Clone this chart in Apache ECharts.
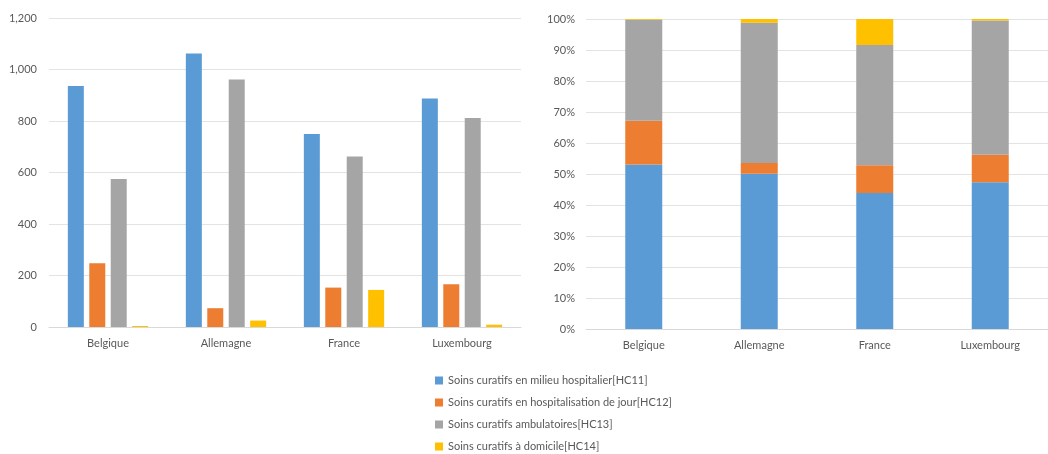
<!DOCTYPE html>
<html>
<head>
<meta charset="utf-8">
<script src="https://cdn.jsdelivr.net/npm/echarts@6/dist/echarts.min.js"></script>
<style>
html, body { margin: 0; padding: 0; background: #fff; }
#chart { width: 1048px; height: 454px; }
</style>
</head>
<body>
<div id="chart"></div>
<script>
var pays = ['Belgique', 'Allemagne', 'France', 'Luxembourg'];
var noms = [
    'Soins curatifs en milieu hospitalier[HC11]',
    'Soins curatifs en hospitalisation de jour[HC12]',
    'Soins curatifs ambulatoires[HC13]',
    'Soins curatifs à domicile[HC14]'
];
var hc11 = [936, 1062, 750, 887];
var hc12 = [248, 73, 153, 166];
var hc13 = [575, 961, 662, 812];
var hc14 = [4, 25, 144, 9];
var couleurs = ['#5b9bd5', '#ed7d31', '#a5a5a5', '#ffc000'];

var valeurs = [hc11, hc12, hc13, hc14];
var totaux = pays.map(function(p, i) {
    return hc11[i] + hc12[i] + hc13[i] + hc14[i];
});

var myChart = echarts.init(document.getElementById('chart'));

var labelStyle = { color: '#595959', fontSize: 11, fontFamily: 'Lato' };

var series = [];
valeurs.forEach(function(v, k) {
    series.push({
        name: noms[k],
        type: 'bar',
        xAxisIndex: 0,
        yAxisIndex: 0,
        barWidth: 16,
        barGap: '34%',
        itemStyle: { color: couleurs[k] },
        data: v
    });
});
// part de chaque poste dans le total du pays
valeurs.forEach(function(v, k) {
    series.push({
        name: noms[k],
        type: 'bar',
        stack: 'pct',
        xAxisIndex: 1,
        yAxisIndex: 1,
        barWidth: 37,
        itemStyle: { color: couleurs[k] },
        data: v.map(function(x, i) {
            return x / totaux[i] * 100;
        })
    });
});

myChart.setOption({
    animation: false,
    color: couleurs,
    legend: {
        orient: 'vertical',
        left: 435,
        top: 375,
        height: 110,
        padding: 0,
        itemWidth: 8,
        itemHeight: 8,
        itemGap: 11,
        icon: 'rect',
        textStyle: { color: '#595959', fontSize: 11, fontFamily: 'Lato' },
        data: noms
    },
    grid: [
        { left: 49, top: 18, width: 472, height: 309 },
        { left: 586, top: 19, width: 468, height: 310 }
    ],
    xAxis: [{
        type: 'category',
        gridIndex: 0,
        data: pays,
        axisTick: { show: false },
        axisLine: { lineStyle: { color: '#d9d9d9' } },
        axisLabel: Object.assign({ margin: 11 }, labelStyle)
    }, {
        type: 'category',
        gridIndex: 1,
        data: pays,
        axisTick: { show: false },
        axisLine: { lineStyle: { color: '#d9d9d9' } },
        axisLabel: Object.assign({ margin: 11 }, labelStyle)
    }],
    yAxis: [{
        type: 'value',
        gridIndex: 0,
        min: 0,
        max: 1200,
        interval: 200,
        splitLine: { lineStyle: { color: '#e3e3e3' } },
        axisLabel: Object.assign({
            margin: 12,
            formatter: function(v) {
                return v.toLocaleString('en-US');
            }
        }, labelStyle)
    }, {
        type: 'value',
        gridIndex: 1,
        min: 0,
        max: 100,
        interval: 10,
        splitLine: { lineStyle: { color: '#e3e3e3' } },
        axisLabel: Object.assign({
            margin: 11,
            formatter: '{value}%'
        }, labelStyle)
    }],
    series: series
});
</script>
</body>
</html>
